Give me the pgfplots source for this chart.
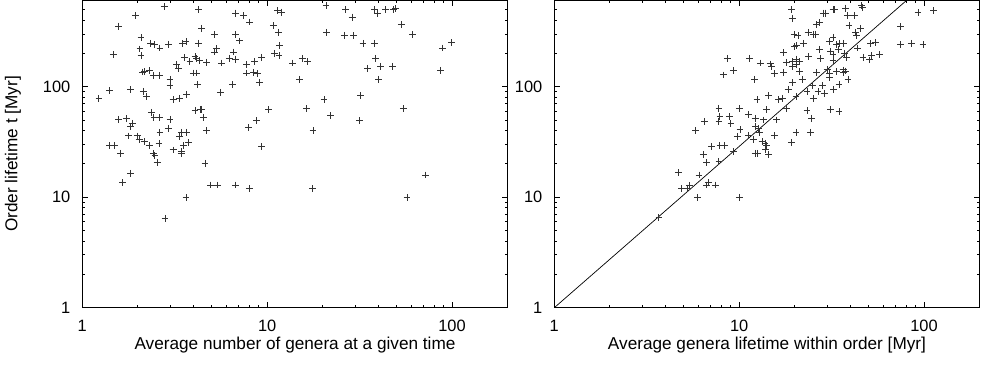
\documentclass[border=0pt]{standalone}
\usepackage{fontspec}
\setmainfont{Liberation Sans}
\usepackage{pgfplots}
\pgfplotsset{compat=1.18}

\pgfplotsset{
  panel/.style={
    scale only axis, width=212.7pt, height=153.85pt,
    xmin=1, xmax=200, ymin=1, ymax=610,
    xtick={1,10,100}, xticklabels={1,10,100},
    ytick={1,10,100}, yticklabels={1,10,100},
    minor xtick={2,3,4,5,6,7,8,9,20,30,40,50,60,70,80,90,200},
    minor ytick={2,3,4,5,6,7,8,9,20,30,40,50,60,70,80,90,200,300,400,500,600},
    major tick length=3pt, minor tick length=1.5pt,
    tick style={black, line width=0.5pt},
    axis line style={line width=0.6pt},
    tick label style={font=\fontsize{8.2}{9}\selectfont, inner sep=0pt},
    label style={font=\fontsize{8.6}{10}\selectfont, inner sep=0pt},
    xticklabel style={yshift=-6.1pt},
    yticklabel style={xshift=-5.8pt},
    xlabel style={at={(axis description cs:0.5,-0.12)}, anchor=center},
  },
  pts/.style={only marks, mark=+, mark size=1.7pt, black!80,
    mark options={line width=0.45pt}},
}

\begin{document}
\begin{tikzpicture}
% left: order lifetime vs mean number of genera
\begin{loglogaxis}[panel,
  xlabel={Average number of genera at a given time},
  ylabel={Order lifetime t [Myr]},
  ylabel style={at={(axis description cs:-0.163,0.5)}, anchor=center},
]
\addplot[pts] coordinates {
(2.78,533) (1.94,439) (4.27,497) (6.77,464) (7.48,439) (8.06,385) (11.4,487) (11.9,474)
(1.57,354) (4.42,339) (10.8,359) (11.5,312) (5.17,295) (6.77,297) (7.12,260) (2.08,277)
(2.34,248) (2.45,241) (2.63,224) (2.94,243) (3.49,245) (3.64,255) (4.24,248) (2.05,220)
(11.7,235) (1.47,195) (2.08,193) (5.17,206) (5.32,222) (6.55,206) (11.0,201) (11.6,191)
(3.56,184) (4.07,188) (4.15,179) (3.82,170) (4.29,172) (4.70,167) (3.24,158) (3.33,146)
(5.67,164) (6.23,181) (6.77,178) (7.74,158) (8.58,169) (9.32,185) (2.12,136) (2.18,137)
(2.32,140) (2.42,126) (2.63,127) (3.98,133) (4.15,133) (2.98,117) (2.98,102) (4.20,104)
(7.74,133) (8.40,135) (8.87,131) (9.06,110) (6.50,104) (5.60,89.3) (1.41,91.8) (1.83,93.7)
(2.14,91.2) (2.23,81.6) (1.23,77.7) (3.10,76.1) (3.37,78.8) (3.67,85.6) (4.07,60.5) (4.33,61.8)
(4.42,62.6) (4.51,53.0) (10.2,61.8) (2.37,58.8) (2.44,53.0) (2.63,52.6) (2.98,50.8) (1.57,50.8)
(1.74,51.6) (1.87,46.8) (1.83,43.6) (2.92,42.1) (2.63,38.8) (1.78,35.9) (1.98,35.9) (2.03,33.5)
(2.16,31.9) (2.30,29.4) (2.60,30.8) (3.37,35.4) (3.44,38.8) (3.68,38.8) (3.74,31.3) (4.70,39.9)
(7.90,42.7) (8.76,49.1) (1.41,29.4) (1.50,29.4) (1.61,25.0) (2.42,24.7) (2.47,23.8) (3.10,26.8)
(3.44,25.9) (3.52,29.4) (9.32,28.7) (3.43,25.0)
(20.8,541) (26.6,497) (28.8,427) (37.9,497) (39.5,464) (43.8,497) (48.0,497) (49.4,508)
(53.2,364) (61.1,295) (20.9,312) (26.1,293) (29.2,291) (33.0,248) (37.9,248) (88.7,224)
(99.2,252) (13.7,164) (15.5,181) (16.5,169) (38.5,181) (35.0,147) (41.2,153) (47.6,153)
(86.9,141) (14.9,117) (40.0,117) (20.3,76.1) (32.1,83.3) (16.3,63.1) (22.1,54.9) (31.7,49.1)
(54.4,63.1) (17.7,39.9)
(2.54,20.7) (4.61,20.3) (1.83,16.5) (1.65,13.6) (4.94,12.9) (5.37,12.9) (6.77,12.9) (8.00,11.9)
(17.6,11.9) (3.64,9.92) (2.80,6.45) (57.1,9.92) (71.8,15.9)
};
\end{loglogaxis}

% right: order lifetime vs mean genus lifetime
\begin{loglogaxis}[panel, at={(236pt,0)},
  xlabel={Average genera lifetime within order [Myr]},
]
\addplot[pts] coordinates {
(6.47,48.4) (7.87,53.8) (7.77,48.4) (8.83,53.8) (9.02,46.8) (11.2,55.7) (12.2,51.9) (13.6,50.1)
(15.9,50.1) (5.81,39.9) (10.1,40.7) (9.76,35.4) (12.3,43.6) (12.7,41.6) (12.9,38.8) (11.2,36.2)
(11.9,33.5) (15.5,36.2) (20.3,38.8) (19.2,31.3) (13.3,31.9) (13.8,30.8) (14.1,29.4) (13.9,27.2)
(14.4,24.2) (12.2,25.0) (12.6,25.0) (7.09,28.7) (7.87,29.4) (8.30,29.2) (9.29,25.9) (6.39,24.2)
(6.66,20.6) (7.77,21.0) (4.68,16.7) (6.06,15.9) (4.88,11.9) (5.26,12.1) (5.41,12.7) (6.80,13.6)
(6.66,12.9) (7.45,12.9) (5.96,9.92) (10.0,10.0) (3.68,6.54) (24.6,51.9) (24.3,38.8)
(8.62,181) (11.4,181) (13.0,164) (14.7,161) (15.0,153) (17.3,204) (18.0,167) (9.29,140)
(8.20,128) (12.1,117) (15.5,131) (17.4,135) (18.4,93.7) (14.4,83.3) (12.5,76.1) (16.3,76.1)
(17.2,78.8) (7.77,64.0) (10.0,63.1) (14.1,61.8) (18.0,64.0)
(19.2,497) (19.4,418) (28.5,464) (29.4,464) (32.2,497) (32.9,497) (37.7,515) (45.9,541)
(46.4,526) (38.4,439) (42.2,439) (39.3,356) (45.5,339) (26.2,364) (27.3,382) (19.8,295)
(20.8,289) (23.6,312) (25.1,299) (26.0,299) (42.7,310) (43.1,289) (20.0,231) (20.4,236)
(22.2,248) (30.7,257) (32.2,281) (33.6,240) (35.0,248) (36.8,248) (34.3,219) (27.1,219)
(31.2,209) (32.2,197) (37.3,201) (43.6,224) (51.5,245) (54.8,252) (74.5,351) (92.8,470)
(113,490) (74.5,240) (85.4,248) (98.8,240) (46.8,185) (50.9,175) (51.9,191) (57.6,195)
(38.1,185) (23.8,188) (27.5,179) (32.2,172) (19.4,169) (20.4,178) (21.1,169) (20.3,158)
(19.4,153) (21.3,137) (26.2,135) (29.9,144) (30.7,131) (33.6,137) (36.5,142) (37.7,139)
(36.8,135) (21.9,117) (30.9,122) (38.8,117) (19.4,109) (24.9,102) (28.2,102) (34.7,104)
(23.3,90.6) (26.7,90.6) (28.8,86.3) (32.5,93.7) (20.3,81.6) (25.3,77.7) (23.3,60.5) (31.2,61.8)
(34.7,59.7)
};
\addplot[black, line width=0.35pt] coordinates {(1,1) (100,832)};
\end{loglogaxis}
\pgfresetboundingbox
\path[use as bounding box] (-41.15pt,-28.65pt) rectangle (449.35pt,153.85pt);
\end{tikzpicture}
\end{document}
